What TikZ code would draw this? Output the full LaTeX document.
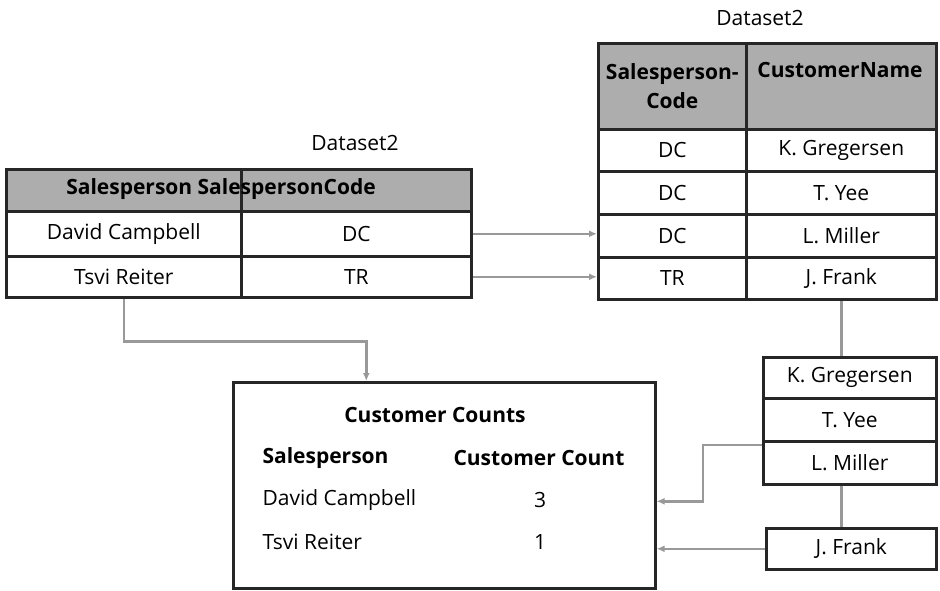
\documentclass[tikz,border=0pt]{standalone}
\usepackage{fontspec}
\setmainfont{Open Sans}
\usetikzlibrary{arrows.meta}

\begin{document}
\begin{tikzpicture}[
	x=1pt, y=-1pt,
	cell/.style={
		draw=black!85,
		line width=2.6pt,
		anchor=north west,
		inner sep=0pt,
		font=\fontsize{21}{29}\selectfont
	},
	head/.style={
		cell,
		fill=black!32,
		font=\fontsize{21}{29}\selectfont\bfseries
	},
	label/.style={
		font=\fontsize{21}{25}\selectfont
	},
	link/.style={
		draw=black!40,
		line width=2.6pt
	},
	arrow/.style={
		link,
		-{Latex[length=8pt,width=7pt]}
	}
	]
	\useasboundingbox (0,0) rectangle (940,590);
	
	% Salesperson table
	\node[label] (left_title) at (355,143) {Dataset2};
	\node[head, minimum width=235pt, minimum height=42pt] (sp_head) at (5,168) {};
	\node[head, minimum width=230pt, minimum height=42pt] (code_head) at (240,168) {};
	\node[label, font=\fontsize{21}{25}\selectfont\bfseries] (left_head) at (221,189) {Salesperson SalespersonCode};
	
	\node[cell, minimum width=235pt, minimum height=45pt] (sp_dc) at (5,210) {David Campbell};
	\node[cell, minimum width=230pt, minimum height=45pt] (code_dc) at (240,210) {DC};
	\node[cell, minimum width=235pt, minimum height=41pt] (sp_tr) at (5,255) {Tsvi Reiter};
	\node[cell, minimum width=230pt, minimum height=41pt] (code_tr) at (240,255) {TR};
	
	% Customer table
	\node[label] (right_title) at (760,18) {Dataset2};
	\node[head, minimum width=148pt, minimum height=86pt, align=center] (rcode_head) at (597,42) {Salesperson-\\Code};
	\node[head, minimum width=190pt, minimum height=86pt] (name_head) at (745,42) {};
	\node[label, font=\fontsize{21}{25}\selectfont\bfseries] (name_text) at (840,70) {CustomerName};
	
	\node[cell, minimum width=148pt, minimum height=42pt] (rcode_kg) at (597,128) {DC};
	\node[cell, minimum width=190pt, minimum height=42pt] (name_kg) at (745,128) {K. Gregersen};
	\node[cell, minimum width=148pt, minimum height=43pt] (rcode_ty) at (597,170) {DC};
	\node[cell, minimum width=190pt, minimum height=43pt] (name_ty) at (745,170) {T. Yee};
	\node[cell, minimum width=148pt, minimum height=43pt] (rcode_lm) at (597,213) {DC};
	\node[cell, minimum width=190pt, minimum height=43pt] (name_lm) at (745,213) {L. Miller};
	\node[cell, minimum width=148pt, minimum height=42pt] (rcode_jf) at (597,256) {TR};
	\node[cell, minimum width=190pt, minimum height=42pt] (name_jf) at (745,256) {J. Frank};
	
	% Grouped customers
	\node[cell, minimum width=173pt, minimum height=41pt] (group_kg) at (762,356) {K. Gregersen};
	\node[cell, minimum width=173pt, minimum height=43pt] (group_ty) at (762,397) {T. Yee};
	\node[cell, minimum width=173pt, minimum height=43pt] (group_lm) at (762,440) {L. Miller};
	\node[cell, minimum width=170pt, minimum height=41pt] (group_jf) at (765,527) {J. Frank};
	
	% Result report
	\node[cell, minimum width=422pt, minimum height=206pt] (counts) at (232,381) {};
	\node[label, font=\fontsize{21}{25}\selectfont\bfseries] (counts_title) at (435,415) {Customer Counts};
	\node[label, font=\fontsize{21}{25}\selectfont\bfseries, anchor=west] (counts_sp) at (259,458) {Salesperson};
	\node[label, font=\fontsize{21}{25}\selectfont\bfseries] (counts_num) at (539,458) {Customer Count};
	\node[label, anchor=west] (counts_dc) at (259,500) {David Campbell};
	\node[label] (counts_three) at (540,500) {3};
	\node[label, anchor=west] (counts_tr) at (259,542) {Tsvi Reiter};
	\node[label] (counts_one) at (540,542) {1};
	
	% Arrows
	\draw[arrow] (code_dc.east) -- (code_dc.east -| rcode_lm.west);
	\draw[arrow] (code_tr.east) -- (code_tr.east -| rcode_jf.west);
	\draw[arrow] (sp_tr.south) -- ++(0,43) -| ([xshift=-78pt]counts.north);
	
	\draw[link] (name_jf.south) -- (name_jf.south |- group_kg.north);
	\draw[link] (group_lm.south -| name_jf.south) -- (group_jf.north -| name_jf.south);
	\draw[arrow] ([yshift=-5pt]group_lm.north west) -- ++(-59,0) |- ([yshift=-16pt]counts.east);
	\draw[arrow] (group_jf.west) -- (group_jf.west -| counts.east);
	
\end{tikzpicture}
\end{document}
